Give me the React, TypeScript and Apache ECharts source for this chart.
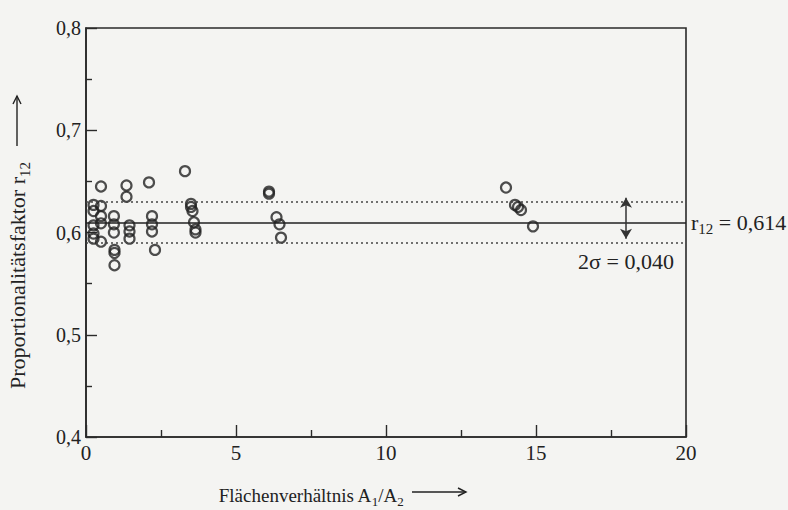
import React, { useEffect, useRef } from "react";
import * as echarts from "echarts";

// Flächenverhältnis A1/A2 (x) and Proportionalitätsfaktor r12 (y)
const xValues: number[] = [
  0.25, 0.25, 0.25, 0.25, 0.25,
  0.5, 0.5, 0.5, 0.5, 0.5,
  0.93, 0.93, 0.93, 0.95, 0.95, 0.95,
  1.35, 1.35,
  1.45, 1.45, 1.45,
  2.1,
  2.2, 2.2, 2.2,
  2.3,
  3.3,
  3.5, 3.5, 3.55, 3.6, 3.65, 3.65,
  6.1, 6.1, 6.35, 6.45, 6.5,
  14.0, 14.3, 14.4, 14.5, 14.9,
];
const yValues: number[] = [
  0.627, 0.621, 0.607, 0.599, 0.594,
  0.645, 0.626, 0.616, 0.609, 0.591,
  0.616, 0.608, 0.600, 0.583, 0.580, 0.568,
  0.646, 0.635,
  0.607, 0.601, 0.594,
  0.649,
  0.616, 0.608, 0.601,
  0.583,
  0.660,
  0.628, 0.625, 0.621, 0.610, 0.603, 0.600,
  0.640, 0.638, 0.615, 0.608, 0.595,
  0.644, 0.627, 0.625, 0.622, 0.606,
];

const meanValue = 0.614;
const sigmaUpper = 0.634;
const sigmaLower = 0.594;
const arrowX = 18;
const xTicks = { min: 0, max: 20, interval: 5 };
const yTicks = { min: 0.4, max: 0.8, interval: 0.1 };

const FONT = "Liberation Serif";
const INK = "#222222";

export default function App() {
  const ref = useRef<HTMLDivElement>(null);
  useEffect(() => {
    if (!ref.current) return;
    const chart = echarts.init(ref.current, undefined, { renderer: "svg" });
    const points = xValues.map((x, i) => [x, yValues[i]]);
    const fmt = (v: number) => (Number.isInteger(v) ? String(v) : v.toFixed(1).replace(".", ","));
    chart.setOption({
      animation: false,
      backgroundColor: "#f4f4f2",
      textStyle: { fontFamily: FONT, color: INK },
      grid: {
        left: 86,
        right: 102,
        top: 28,
        bottom: 73,
        containLabel: false,
        outerBoundsMode: "none",
        show: true,
        borderColor: "#2a2a2a",
        borderWidth: 1.6,
        backgroundColor: "transparent",
      },
      xAxis: {
        type: "value",
        min: xTicks.min,
        max: xTicks.max,
        interval: xTicks.interval,
        axisLine: { show: true, lineStyle: { color: "#2a2a2a", width: 1.6 } },
        axisTick: { show: true, inside: true, length: 12, lineStyle: { color: "#2a2a2a", width: 1.4 } },
        minorTick: { show: true, splitNumber: 2, length: 7, lineStyle: { color: "#2a2a2a", width: 1.4 } },
        splitLine: { show: false },
        axisLabel: { fontFamily: FONT, fontSize: 21, color: INK, margin: 5, formatter: fmt },
        name: "Flächenverhältnis A{s|1}/A{s|2}",
        nameLocation: "middle",
        nameGap: 46,
        nameTextStyle: {
          fontFamily: FONT,
          fontSize: 19,
          color: INK,
          padding: [0, 150, 0, 0],
          rich: { s: { fontFamily: FONT, fontSize: 13, color: INK, padding: [12, 0, 0, 0] } },
        },
      },
      yAxis: {
        type: "value",
        min: yTicks.min,
        max: yTicks.max,
        interval: yTicks.interval,
        axisLine: { show: true, lineStyle: { color: "#2a2a2a", width: 1.6 } },
        axisTick: { show: true, inside: true, length: 11, lineStyle: { color: "#2a2a2a", width: 1.4 } },
        minorTick: { show: true, splitNumber: 2, length: 6, lineStyle: { color: "#2a2a2a", width: 1.4 } },
        splitLine: { show: false },
        axisLabel: { fontFamily: FONT, fontSize: 20, color: INK, margin: 5, formatter: fmt },
        name: "Proportionalitätsfaktor r{s|12}",
        nameLocation: "middle",
        nameGap: 54,
        nameTextStyle: {
          fontFamily: FONT,
          fontSize: 22,
          color: INK,
          padding: [0, 86, 0, 0],
          rich: { s: { fontFamily: FONT, fontSize: 15, color: INK, padding: [14, 0, 0, 0] } },
        },
      },
      series: [
        {
          type: "scatter",
          data: points,
          symbol: "circle",
          symbolSize: 10,
          itemStyle: { color: "rgba(0,0,0,0)", borderColor: "#222", borderWidth: 2.2 },
          markLine: {
            silent: true,
            symbol: "none",
            data: [
              {
                yAxis: meanValue,
                lineStyle: { type: "solid", color: "#222", width: 1.6 },
                label: {
                  show: true,
                  position: "end",
                  distance: 5,
                  fontFamily: FONT,
                  fontSize: 22,
                  color: INK,
                  formatter: "r{s|12} = 0,614",
                  rich: {
                    s: { fontFamily: FONT, fontSize: 15, color: INK, padding: [13, 0, 0, 0] },
                  },
                },
              },
              {
                yAxis: sigmaUpper,
                lineStyle: { type: [2, 3], color: "#444", width: 1.6 },
                label: { show: false },
              },
              {
                yAxis: sigmaLower,
                lineStyle: { type: [2, 3], color: "#444", width: 1.6 },
                label: { show: false },
              },
            ],
          },
        },
        {
          type: "scatter",
          data: [],
          markLine: {
            silent: true,
            symbol: ["arrow", "arrow"],
            symbolSize: [9, 10],
            lineStyle: { type: "solid", color: "#333", width: 1.5 },
            data: [
              [
                {
                  coord: [arrowX, sigmaLower],
                  label: {
                    show: true,
                    position: "start",
                    distance: 12,
                    fontFamily: FONT,
                    fontSize: 22,
                    color: INK,
                    formatter: "2σ = 0,040",
                  },
                },
                { coord: [arrowX, sigmaUpper] },
              ],
            ],
          },
        },
      ],
      graphic: [
        {
          type: "group",
          children: [
            { type: "line", shape: { x1: 412, y1: 492, x2: 466, y2: 492 }, style: { stroke: INK, lineWidth: 1.4 } },
            { type: "polyline", shape: { points: [[458, 488], [466, 492], [458, 496]] }, style: { stroke: INK, lineWidth: 1.4, fill: "none" } },
            { type: "line", shape: { x1: 17, y1: 146, x2: 17, y2: 96 }, style: { stroke: INK, lineWidth: 1.4 } },
            { type: "polyline", shape: { points: [[13, 104], [17, 96], [21, 104]] }, style: { stroke: INK, lineWidth: 1.4, fill: "none" } },
          ],
        },
      ],
    });
    return () => chart.dispose();
  }, []);
  return <div ref={ref} style={{ width: 788, height: 510, position: "absolute", left: 0, top: 0 }} />;
}
